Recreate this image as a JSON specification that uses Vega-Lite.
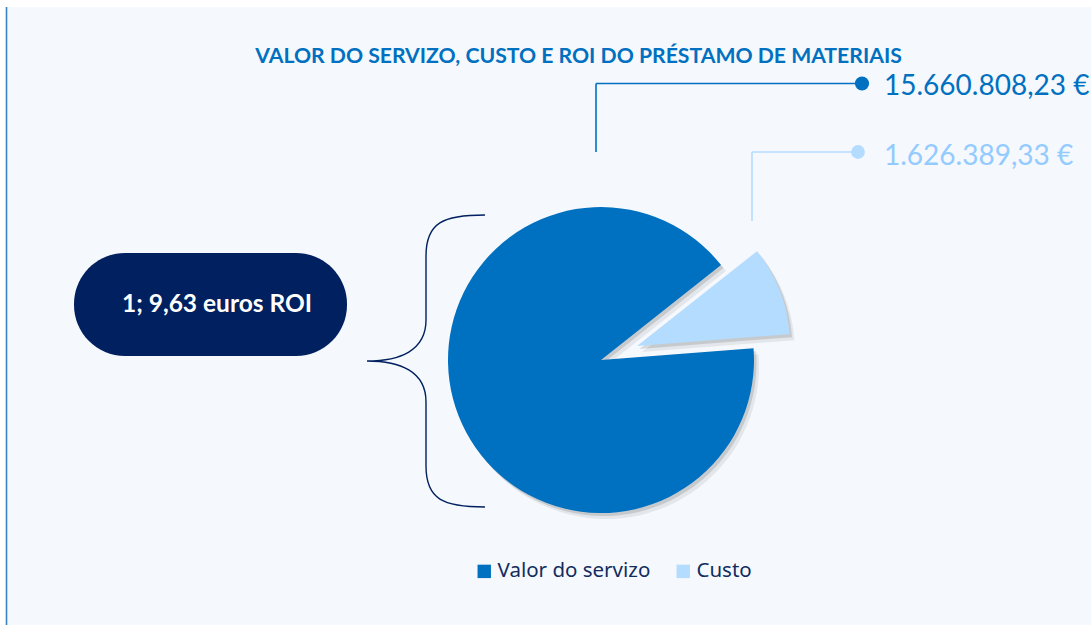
{
  "$schema": "https://vega.github.io/schema/vega-lite/v6.json",
  "width": 1091,
  "height": 625,
  "autosize": {"type": "none"},
  "padding": 0,
  "background": "#ffffff",
  "config": {
    "view": {"stroke": null},
    "font": "Lato",
    "locale": {"number": {"decimal": ",", "thousands": ".", "grouping": [3], "currency": ["", " €"]}}
  },
  "title": {
    "text": "VALOR DO SERVIZO, CUSTO E ROI DO PRÉSTAMO DE MATERIAIS",
    "font": "Lato",
    "fontSize": 21.2,
    "fontWeight": "bold",
    "color": "#0070c0",
    "anchor": "middle",
    "frame": "group",
    "dx": 33,
    "offset": -84,
    "baseline": "alphabetic"
  },
  "data": {"values": [
    {"categoria": "Valor do servizo", "valor": 15660808.23},
    {"categoria": "Custo", "valor": 1626389.33}
  ]},
  "layer": [
    {
      "data": {"values": [{}]},
      "mark": {"type": "rect", "fill": "#f5f8fc"},
      "encoding": {
        "x": {"datum": 7, "type": "quantitative", "scale": {"domain": [0, 1091], "nice": false, "zero": false}, "axis": null},
        "x2": {"datum": 1091},
        "y": {"datum": 7, "type": "quantitative", "scale": {"domain": [0, 625], "nice": false, "zero": false, "reverse": true}, "axis": null},
        "y2": {"datum": 625}
      }
    },
    {
      "data": {"values": [{}]},
      "mark": {"type": "rule", "stroke": "#3a84c9", "strokeWidth": 1.6},
      "encoding": {
        "x": {"datum": 6.5, "type": "quantitative"},
        "y": {"datum": 7, "type": "quantitative"},
        "y2": {"datum": 625}
      }
    },
    {
      "transform": [
        {"stack": "valor", "groupby": [], "sort": [{"field": "categoria", "order": "ascending"}], "as": ["t0", "t1"]},
        {"filter": "datum.categoria === 'Valor do servizo'"}
      ],
      "mark": {"type": "arc", "radius": 153, "fill": "#000000", "opacity": 0.07, "xOffset": 5, "yOffset": 6},
      "encoding": {
        "theta": {"field": "t0", "type": "quantitative", "stack": null, "scale": {"domain": [0, 17287197.56], "range": [0.902, 7.185]}},
        "theta2": {"field": "t1"},
        "x": {"datum": 601, "type": "quantitative"},
        "y": {"datum": 360, "type": "quantitative"}
      }
    },
    {
      "transform": [
        {"stack": "valor", "groupby": [], "sort": [{"field": "categoria", "order": "ascending"}], "as": ["t0", "t1"]},
        {"filter": "datum.categoria === 'Valor do servizo'"}
      ],
      "mark": {"type": "arc", "radius": 153, "fill": "#000000", "opacity": 0.12, "xOffset": 2.5, "yOffset": 3},
      "encoding": {
        "theta": {"field": "t0", "type": "quantitative", "stack": null},
        "theta2": {"field": "t1"},
        "x": {"datum": 601, "type": "quantitative"},
        "y": {"datum": 360, "type": "quantitative"}
      }
    },
    {
      "transform": [
        {"stack": "valor", "groupby": [], "sort": [{"field": "categoria", "order": "ascending"}], "as": ["t0", "t1"]},
        {"filter": "datum.categoria === 'Valor do servizo'"}
      ],
      "mark": {"type": "arc", "radius": 153},
      "encoding": {
        "theta": {"field": "t0", "type": "quantitative", "stack": null},
        "theta2": {"field": "t1"},
        "x": {"datum": 601, "type": "quantitative"},
        "y": {"datum": 360, "type": "quantitative"},
        "color": {
          "field": "categoria", "type": "nominal",
          "scale": {"domain": ["Valor do servizo", "Custo"], "range": ["#0070c0", "#b4dcff"]},
          "legend": {
            "title": null, "orient": "none", "legendX": 474, "legendY": 561,
            "direction": "horizontal", "symbolType": "square", "symbolSize": 180,
            "symbolStrokeWidth": 0, "labelFont": "Noto Sans", "labelFontSize": 20.5,
            "labelColor": "#112c5e", "labelOffset": 3, "columnPadding": 22, "labelLimit": 300
          }
        }
      }
    },
    {
      "transform": [
        {"stack": "valor", "groupby": [], "sort": [{"field": "categoria", "order": "ascending"}], "as": ["t0", "t1"]},
        {"filter": "datum.categoria === 'Custo'"}
      ],
      "mark": {"type": "arc", "radius": 153, "fill": "#000000", "opacity": 0.07, "xOffset": 41, "yOffset": -8},
      "encoding": {
        "theta": {"field": "t0", "type": "quantitative", "stack": null},
        "theta2": {"field": "t1"},
        "x": {"datum": 601, "type": "quantitative"},
        "y": {"datum": 360, "type": "quantitative"}
      }
    },
    {
      "transform": [
        {"stack": "valor", "groupby": [], "sort": [{"field": "categoria", "order": "ascending"}], "as": ["t0", "t1"]},
        {"filter": "datum.categoria === 'Custo'"}
      ],
      "mark": {"type": "arc", "radius": 153, "fill": "#000000", "opacity": 0.12, "xOffset": 38.5, "yOffset": -11},
      "encoding": {
        "theta": {"field": "t0", "type": "quantitative", "stack": null},
        "theta2": {"field": "t1"},
        "x": {"datum": 601, "type": "quantitative"},
        "y": {"datum": 360, "type": "quantitative"}
      }
    },
    {
      "transform": [
        {"stack": "valor", "groupby": [], "sort": [{"field": "categoria", "order": "ascending"}], "as": ["t0", "t1"]},
        {"filter": "datum.categoria === 'Custo'"}
      ],
      "mark": {"type": "arc", "radius": 153, "xOffset": 36, "yOffset": -14},
      "encoding": {
        "theta": {"field": "t0", "type": "quantitative", "stack": null},
        "theta2": {"field": "t1"},
        "x": {"datum": 601, "type": "quantitative"},
        "y": {"datum": 360, "type": "quantitative"},
        "color": {"field": "categoria", "type": "nominal"}
      }
    },
    {
      "data": {"values": [{}]},
      "mark": {"type": "rule", "stroke": "#0070c0", "strokeWidth": 1.6},
      "encoding": {
        "x": {"datum": 596, "type": "quantitative"},
        "y": {"datum": 83.5, "type": "quantitative"},
        "y2": {"datum": 152}
      }
    },
    {
      "data": {"values": [{}]},
      "mark": {"type": "rule", "stroke": "#0070c0", "strokeWidth": 1.6},
      "encoding": {
        "x": {"datum": 596, "type": "quantitative"},
        "x2": {"datum": 862},
        "y": {"datum": 83.5, "type": "quantitative"}
      }
    },
    {
      "data": {"values": [{}]},
      "mark": {"type": "rule", "stroke": "#b4dcff", "strokeWidth": 1.6},
      "encoding": {
        "x": {"datum": 752, "type": "quantitative"},
        "y": {"datum": 152, "type": "quantitative"},
        "y2": {"datum": 221}
      }
    },
    {
      "data": {"values": [{}]},
      "mark": {"type": "rule", "stroke": "#b4dcff", "strokeWidth": 1.6},
      "encoding": {
        "x": {"datum": 752, "type": "quantitative"},
        "x2": {"datum": 858},
        "y": {"datum": 152, "type": "quantitative"}
      }
    },
    {
      "data": {"values": [{}]},
      "mark": {"type": "point", "shape": "circle", "filled": true, "opacity": 1, "size": 200, "fill": "#0070c0"},
      "encoding": {
        "x": {"datum": 862, "type": "quantitative"},
        "y": {"datum": 83.5, "type": "quantitative"}
      }
    },
    {
      "data": {"values": [{}]},
      "mark": {"type": "point", "shape": "circle", "filled": true, "opacity": 1, "size": 190, "fill": "#b4dcff"},
      "encoding": {
        "x": {"datum": 858, "type": "quantitative"},
        "y": {"datum": 152, "type": "quantitative"}
      }
    },
    {
      "transform": [{"filter": "datum.categoria === 'Valor do servizo'"}],
      "mark": {"type": "text", "font": "Lato", "fontSize": 28, "align": "left", "baseline": "alphabetic", "fill": "#0070c0"},
      "encoding": {
        "x": {"datum": 884, "type": "quantitative"},
        "y": {"datum": 95, "type": "quantitative"},
        "text": {"field": "valor", "type": "quantitative", "format": "$,.2f"}
      }
    },
    {
      "transform": [{"filter": "datum.categoria === 'Custo'"}],
      "mark": {"type": "text", "font": "Lato", "fontSize": 28, "align": "left", "baseline": "alphabetic", "fill": "#93cbff"},
      "encoding": {
        "x": {"datum": 884, "type": "quantitative"},
        "y": {"datum": 165, "type": "quantitative"},
        "text": {"field": "valor", "type": "quantitative", "format": "$,.2f"}
      }
    },
    {
      "data": {"values": [{}]},
      "mark": {"type": "rect", "fill": "#002060", "cornerRadius": 51},
      "encoding": {
        "x": {"datum": 74, "type": "quantitative"},
        "x2": {"datum": 347},
        "y": {"datum": 253, "type": "quantitative"},
        "y2": {"datum": 356}
      }
    },
    {
      "data": {"values": [{}]},
      "mark": {"type": "text", "text": "1; 9,63 euros ROI", "font": "Lato", "fontSize": 24.5, "fontWeight": "bold", "fill": "#ffffff", "align": "center", "baseline": "middle"},
      "encoding": {
        "x": {"datum": 217, "type": "quantitative"},
        "y": {"datum": 305, "type": "quantitative"}
      }
    },
    {
      "data": {"values": [{}]},
      "mark": {
        "type": "point",
        "shape": "M 0.404 -1 C 0.12 -1 0 -0.95 0 -0.72 L 0 -0.28 C 0 -0.07 -0.18 0 -0.404 0 C -0.18 0 0 0.07 0 0.28 L 0 0.72 C 0 0.95 0.12 1 0.404 1",
        "filled": false,
        "opacity": 1,
        "size": 85264,
        "stroke": "#002060",
        "strokeWidth": 1.4
      },
      "encoding": {
        "x": {"datum": 426, "type": "quantitative"},
        "y": {"datum": 361, "type": "quantitative"}
      }
    }
  ]
}
